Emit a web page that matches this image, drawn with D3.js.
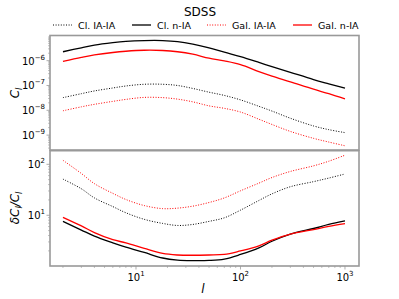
<!DOCTYPE html>
<html>
<head>
<meta charset="utf-8">
<script src="https://cdnjs.cloudflare.com/ajax/libs/d3/7.8.5/d3.min.js"></script>
<style>
  body { margin: 0; background: #fff; }
  text { font-family: "DejaVu Sans", sans-serif; fill: #000; }
</style>
</head>
<body>
<div id="chart"></div>
<script>
// multipoles
var ells = [2, 3, 4, 6, 8, 12, 18, 25, 35, 50, 70, 100, 150, 200, 300, 500, 700, 1000];

// C_l, top panel
var clIAIA = [3.24e-8, 4.68e-8, 6.03e-8, 7.94e-8, 9.55e-8, 1.12e-7, 1.12e-7, 1.0e-7, 7.59e-8, 5.37e-8, 3.98e-8, 2.63e-8, 1.45e-8, 9.33e-9, 4.79e-9, 2.34e-9, 1.66e-9, 1.26e-9];
var clNIA = [2.29e-6, 3.31e-6, 4.27e-6, 5.37e-6, 6.03e-6, 6.46e-6, 6.46e-6, 5.89e-6, 4.68e-6, 3.31e-6, 2.19e-6, 1.45e-6, 8.51e-7, 5.75e-7, 3.39e-7, 1.74e-7, 1.17e-7, 7.76e-8];
var galIAIA = [9.55e-9, 1.38e-8, 1.74e-8, 2.29e-8, 2.75e-8, 3.31e-8, 3.24e-8, 2.82e-8, 2.19e-8, 1.51e-8, 1.20e-8, 8.51e-9, 4.37e-9, 2.69e-9, 1.41e-9, 7.41e-10, 5.25e-10, 3.72e-10];
var galNIA = [9.33e-7, 1.35e-6, 1.70e-6, 2.14e-6, 2.40e-6, 2.63e-6, 2.57e-6, 2.29e-6, 1.82e-6, 1.26e-6, 9.77e-7, 6.92e-7, 3.63e-7, 2.40e-7, 1.41e-7, 7.08e-8, 4.68e-8, 2.88e-8];

// dC_l/C_l, bottom panel
var errClIAIA = [51.3, 33.1, 21.9, 14.8, 11.2, 8.32, 6.92, 6.31, 6.61, 7.59, 8.91, 12.6, 19.5, 26.3, 36.3, 45.7, 53.7, 64.6];
var errClNIA = [7.59, 5.13, 3.89, 2.88, 2.37, 1.86, 1.45, 1.32, 1.29, 1.30, 1.38, 1.70, 2.29, 3.09, 4.27, 5.50, 6.61, 7.76];
var errGalIAIA = [120, 66.1, 41.7, 26.9, 20.4, 15.5, 13.5, 13.8, 15.1, 17.8, 21.9, 30.2, 42.7, 55.0, 72.4, 93.3, 115, 151];
var errGalNIA = [9.12, 6.17, 4.57, 3.31, 2.88, 2.24, 1.78, 1.66, 1.64, 1.66, 1.70, 2.00, 2.51, 3.24, 4.27, 5.25, 6.03, 6.84];

var seriesNames = ["Cl. IA-IA", "Cl. n-IA", "Gal. IA-IA", "Gal. n-IA"];
var seriesColors = ["#000", "#000", "#ff0000", "#ff0000"];
var seriesDotted = [true, false, true, false];

var xTicks = [10, 100, 1000];
var topTicks = [1e-9, 1e-8, 1e-7, 1e-6];
var bottomTicks = [10, 100];

var width = 399, height = 299;
var left = 50, right = 359;

var svg = d3.select("#chart").append("svg")
    .attr("width", width)
    .attr("height", height);

var x = d3.scaleLog().domain([1.503, 1362]).range([left, right]);
var yTop = d3.scaleLog().domain([Math.pow(10, -9.6), Math.pow(10, -4.985)]).range([150, 35.5]);
var yBot = d3.scaleLog().domain([1.01, 185]).range([266, 150.7]);

// minor ticks helper for log scales
function minorTicks(scale) {
  var d = scale.domain(), out = [];
  var lo = Math.floor(Math.log10(Math.min(d[0], d[1])));
  var hi = Math.ceil(Math.log10(Math.max(d[0], d[1])));
  for (var e = lo; e <= hi; e++) {
    for (var m = 2; m <= 9; m++) {
      var v = m * Math.pow(10, e);
      if (v >= Math.min(d[0], d[1]) && v <= Math.max(d[0], d[1])) out.push(v);
    }
  }
  return out;
}

function expLabel(sel, v) {
  var e = Math.round(Math.log10(v));
  sel.append("tspan").text("10");
  sel.append("tspan").attr("dy", -5).style("font-size", "7px").text(e < 0 ? "\u2212" + (-e) : e);
}

function drawPanel(y, data, yticks) {
  var g = svg.append("g");
  var yr = y.range();

  // left ticks
  g.selectAll(".minor").data(minorTicks(y)).enter().append("line")
      .attr("x1", left - 2).attr("x2", left)
      .attr("y1", d => y(d)).attr("y2", d => y(d))
      .attr("stroke", "#999").attr("stroke-width", 0.6);
  g.selectAll(".major").data(yticks).enter().append("line")
      .attr("x1", left - 3.5).attr("x2", left)
      .attr("y1", d => y(d)).attr("y2", d => y(d))
      .attr("stroke", "#999").attr("stroke-width", 0.8);
  g.selectAll(".lab").data(yticks).enter().append("text")
      .attr("x", left - 5)
      .attr("y", d => y(d) + 4)
      .attr("text-anchor", "end")
      .style("font-size", "10px")
      .each(function(d) { expLabel(d3.select(this), d); });

  var line = d3.line()
      .x((d, i) => x(ells[i]))
      .y(d => y(d))
      .curve(d3.curveCatmullRom.alpha(0.5));

  data.forEach(function(vals, k) {
    g.append("path")
      .attr("d", line(vals))
      .attr("fill", "none")
      .attr("stroke", seriesColors[k])
      .attr("stroke-width", seriesDotted[k] ? 1 : 1.3)
      .attr("stroke-dasharray", seriesDotted[k] ? "1,1.6" : null);
  });

  // frame
  g.append("rect")
      .attr("x", left).attr("y", yr[1])
      .attr("width", right - left).attr("height", yr[0] - yr[1])
      .attr("fill", "none").attr("stroke", "#999").attr("stroke-width", 1.6);
  return g;
}

drawPanel(yTop, [clIAIA, clNIA, galIAIA, galNIA], topTicks);
drawPanel(yBot, [errClIAIA, errClNIA, errGalIAIA, errGalNIA], bottomTicks);

// x axis (bottom panel only)
var xa = svg.append("g");
xa.selectAll(".minor").data(minorTicks(x)).enter().append("line")
    .attr("x1", d => x(d)).attr("x2", d => x(d))
    .attr("y1", 266).attr("y2", 268)
    .attr("stroke", "#999").attr("stroke-width", 0.6);
xa.selectAll(".major").data(xTicks).enter().append("line")
    .attr("x1", d => x(d)).attr("x2", d => x(d))
    .attr("y1", 266).attr("y2", 269.5)
    .attr("stroke", "#999").attr("stroke-width", 0.8);
xa.selectAll(".lab").data(xTicks).enter().append("text")
    .attr("x", d => x(d))
    .attr("y", 281)
    .attr("text-anchor", "middle")
    .style("font-size", "10px")
    .each(function(d) { expLabel(d3.select(this), d); });

// axis labels
svg.append("text")
    .attr("x", 203).attr("y", 293)
    .attr("text-anchor", "middle")
    .style("font-size", "12px").style("font-style", "italic")
    .text("l");

var cl = svg.append("text")
    .attr("transform", "translate(19,93) rotate(-90)")
    .attr("text-anchor", "middle")
    .style("font-size", "12px");
cl.append("tspan").style("font-style", "italic").text("C");
cl.append("tspan").attr("dy", 3).style("font-size", "8px").style("font-style", "italic").text("l");

var dcl = svg.append("text")
    .attr("transform", "translate(19,208) rotate(-90)")
    .attr("text-anchor", "middle")
    .style("font-size", "12px");
dcl.append("tspan").style("font-style", "italic").text("\u03b4C");
dcl.append("tspan").attr("dy", 3).style("font-size", "8px").style("font-style", "italic").text("l");
dcl.append("tspan").attr("dy", -3).style("font-style", "italic").text("/C");
dcl.append("tspan").attr("dy", 3).style("font-size", "8px").style("font-style", "italic").text("l");

// title
svg.append("text")
    .attr("x", 200).attr("y", 16)
    .attr("text-anchor", "middle")
    .style("font-size", "12px")
    .text("SDSS");

// legend
var legX = [53, 132, 207, 293];
var leg = svg.selectAll(".leg").data(seriesNames).enter().append("g");
leg.append("line")
    .attr("x1", (d, i) => legX[i]).attr("x2", (d, i) => legX[i] + 19)
    .attr("y1", 25).attr("y2", 25)
    .attr("stroke", (d, i) => seriesColors[i])
    .attr("stroke-width", (d, i) => seriesDotted[i] ? 1 : 1.3)
    .attr("stroke-dasharray", (d, i) => seriesDotted[i] ? "1,1.6" : null);
leg.append("text")
    .attr("x", (d, i) => legX[i] + 25)
    .attr("y", 28.5)
    .style("font-size", "9.5px")
    .text(d => d);
</script>
</body>
</html>
